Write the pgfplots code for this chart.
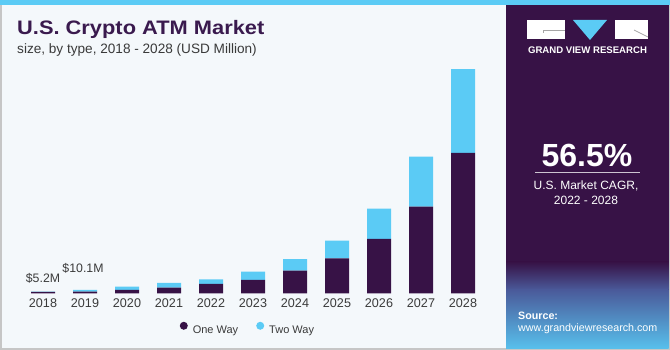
\documentclass[border=0pt]{standalone}
\usepackage{pgfplots}
\pgfplotsset{compat=1.18}
\usepackage{fontspec}
\setmainfont{Liberation Sans}
\newfontfamily\titlefont[FakeStretch=1.12]{Liberation Sans}
\definecolor{gvpurple}{HTML}{371246}
\definecolor{gvblue}{HTML}{5BCBF5}
\definecolor{bgleft}{HTML}{F4F8FB}
\definecolor{titlecol}{HTML}{3A1A4E}
\definecolor{txtgray}{HTML}{3A3A3A}
\definecolor{gridblue}{HTML}{4A5A9A}
\definecolor{botblue}{HTML}{58C0EC}

\begin{document}
\begin{tikzpicture}[x=1pt,y=1pt]
\useasboundingbox (0,0) rectangle (670,350);
\fill[bgleft] (0,0) rectangle (670,350);
\draw[gray!45, line width=1.5pt] (0.75,0.75) rectangle (669.25,349.25);
% right panel
\fill[gvpurple] (506,1.5) rectangle (668.5,345);
\shade[top color=gvpurple, bottom color=gridblue] (506,60) rectangle (668.5,88);
\shade[top color=gridblue, bottom color=botblue] (506,1.5) rectangle (668.5,60.2);
% top strip
\fill[gvblue] (0,345) rectangle (670,350);
% logo
\fill[white] (527,311) rectangle (565,330);
\draw[gray!70, line width=0.8pt] (543,317) -- (543,320) -- (565,320);
\fill[gvblue] (573,330) -- (607,330) -- (590,310) -- cycle;
\fill[white] (615,311) rectangle (648,330);
\draw[gray!70, line width=0.8pt] (634,320) -- (648,313);
\node[font=\bfseries\fontsize{9.6}{9.6}\selectfont, text=white] at (587.5,300) {GRAND VIEW RESEARCH};
% CAGR
\node[font=\bfseries\fontsize{32}{32}\selectfont, text=white] at (587,195) {56.5\%};
\draw[white!75!gvpurple, line width=1pt] (535,177) -- (640,177);
\node[font=\fontsize{12}{12}\selectfont, text=white] at (586,164) {U.S. Market CAGR,};
\node[font=\fontsize{12}{12}\selectfont, text=white] at (586,150) {2022 - 2028};
\node[anchor=base west, inner sep=0, font=\bfseries\fontsize{10.7}{10.7}\selectfont, text=white] at (518,30.7) {Source:};
\node[anchor=base west, inner sep=0, font=\fontsize{10.7}{10.7}\selectfont, text=white] at (518,18) {www.grandviewresearch.com};
% titles
\node[anchor=base west, inner sep=0, font=\titlefont\bfseries\fontsize{19.5}{19.5}\selectfont, text=titlecol] at (17,315) {U.S. Crypto ATM Market};
\node[anchor=base west, inner sep=0, font=\fontsize{13.6}{13.6}\selectfont, text=txtgray] at (17,296) {size, by type, 2018 - 2028 (USD Million)};

\begin{axis}[
  at={(22pt,56.7pt)}, anchor=south west,
  scale only axis, width=462pt, height=229pt,
  xmin=-0.5, xmax=10.5, ymin=0, ymax=700,
  ybar stacked, bar width=24pt,
  axis line style={draw=none},
  major tick length=0pt,
  ytick=\empty,
  xtick=data,
  xticklabels={2018,2019,2020,2021,2022,2023,2024,2025,2026,2027,2028},
  xticklabel style={anchor=base, yshift=-14pt, font=\fontsize{12.6}{12.6}\selectfont, text=txtgray},
  clip=false,
  legend columns=2,
  legend style={at={(0.489,-0.156)}, anchor=center, draw=none, fill=none,
    font=\fontsize{11}{11}\selectfont, text=txtgray,
    /tikz/every even column/.append style={column sep=16pt}},
]
\addplot+[fill=gvpurple, draw=none,
  legend image code/.code={\path[fill=none,draw=none] (0pt,-1pt) rectangle (11pt,8.5pt); \fill[gvpurple] (4pt,4.2pt) circle (4pt);}]
  coordinates {(0,4.2) (1,5.0) (2,10.1) (3,17.1) (4,28.5) (5,40.7) (6,69.2) (7,107) (8,166) (9,265) (10,429)};
\addplot+[fill=gvblue, draw=none,
  legend image code/.code={\path[fill=none,draw=none] (0pt,-1pt) rectangle (11pt,8.5pt); \fill[gvblue] (4pt,4.2pt) circle (4pt);}]
  coordinates {(0,1.0) (1,5.1) (2,10.1) (3,14.4) (4,14.4) (5,25.4) (6,34.9) (7,53.9) (8,92.7) (9,153) (10,256)};
\legend{One Way, Two Way}
\node[anchor=base, font=\fontsize{12.3}{12.3}\selectfont, text=txtgray, yshift=9.5pt] at (axis cs:0,5.2) {\$5.2M};
\node[anchor=base, font=\fontsize{12.3}{12.3}\selectfont, text=txtgray, yshift=17.5pt, xshift=-2pt] at (axis cs:1,10.1) {\$10.1M};
\end{axis}
\end{tikzpicture}
\end{document}
